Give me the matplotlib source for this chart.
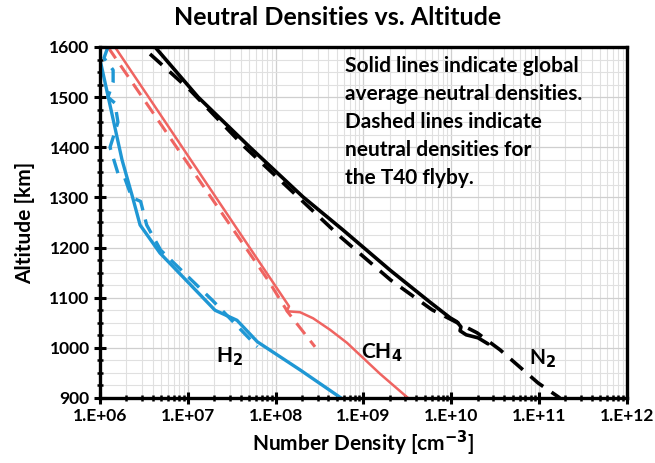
import numpy as np
import matplotlib.pyplot as plt
from matplotlib.ticker import LogLocator, MultipleLocator, FixedLocator

plt.rcParams['font.family'] = ['Lato', 'DejaVu Sans']
plt.rcParams['font.weight'] = 'bold'

# H2, global average (solid) and T40 flyby (dashed)
h2_avg_n = [1.0e6, 1.78e6, 2.31e6, 2.86e6, 4.82e6, 2.04e7, 3.63e7, 6.2e7, 1.9e8, 5.56e8]
h2_avg_alt = [1575, 1375, 1305, 1245, 1189, 1075, 1055, 1012, 956, 900]
h2_t40_n = [1.23e6, 1.11e6, 1.41e6, 1.41e6, 1.23e6, 1.48e6, 1.6e6, 1.3e6, 1.62e6, 1.9e6,
            2.3e6, 2.9e6, 3.4e6, 4.9e6, 1.9e7, 6.2e7]
h2_t40_alt = [1600, 1578, 1554, 1530, 1500, 1488, 1450, 1400, 1345, 1340,
              1300, 1292, 1245, 1195, 1095, 1002]

# CH4
ch4_avg_n = [1.48e6, 1.42e8, 1.34e8, 1.9e8, 2.67e8, 4.17e8, 6.5e8, 1.55e9, 3.22e9]
ch4_avg_alt = [1600, 1083, 1073, 1071, 1059, 1036, 1010, 948, 900]
ch4_t40_n = [1.23e6, 1.06e7, 8.2e7, 1.38e8, 2.81e8]
ch4_t40_alt = [1600, 1361, 1135, 1071, 1002]

# N2
n2_avg_n = [4.23e6, 1.31e7, 5.1e7, 2.05e8, 5.86e8, 2.01e9, 5.74e9, 9.7e9, 1.16e10,
            1.29e10, 1.26e10, 1.48e10, 2.02e10, 2.62e10]
n2_avg_alt = [1600, 1500, 1400, 1301, 1235, 1155, 1091, 1060, 1052,
              1042, 1034, 1026, 1020, 1008]
n2_t40_n = [3.71e6, 1.06e7, 4.48e7, 1.8e8, 5.5e8, 2.05e9, 6.04e9, 1.97e10,
            3.6e10, 9.75e10, 1.73e11]
n2_t40_alt = [1586, 1514, 1400, 1301, 1221, 1135, 1076, 1030, 996, 930, 900]

x_ticks = [1e6, 1e7, 1e8, 1e9, 1e10, 1e11, 1e12]
x_labels = ['1.E+06', '1.E+07', '1.E+08', '1.E+09', '1.E+10', '1.E+11', '1.E+12']

blue = '#1f97d4'
red = '#ef6461'

fig = plt.figure(figsize=(6.55, 4.63), dpi=100)
ax = fig.add_axes([0.1527, 0.1404, 0.957 - 0.1527, 0.8985 - 0.1404])

ax.plot(n2_avg_n, n2_avg_alt, color='black', lw=2.6, solid_capstyle='round')
ax.plot(n2_t40_n, n2_t40_alt, color='black', lw=2.6, dashes=(4.5, 2.8))
ax.plot(ch4_avg_n, ch4_avg_alt, color=red, lw=1.8)
ax.plot(ch4_t40_n, ch4_t40_alt, color=red, lw=2.2, dashes=(4.5, 2.8))
ax.plot(h2_avg_n, h2_avg_alt, color=blue, lw=2.4)
ax.plot(h2_t40_n, h2_t40_alt, color=blue, lw=2.4, dashes=(4.5, 2.8))

ax.set_xscale('log')
ax.set_xlim(1e6, 1e12)
ax.set_ylim(900, 1600)
ax.xaxis.set_major_locator(FixedLocator(x_ticks))
ax.set_xticklabels(x_labels)
ax.xaxis.set_minor_locator(LogLocator(base=10, subs=np.arange(2, 10)))
ax.xaxis.set_minor_formatter(plt.NullFormatter())
ax.yaxis.set_major_locator(MultipleLocator(100))
ax.yaxis.set_minor_locator(MultipleLocator(25))

ax.grid(True, which='major', color='#cfcfcf', lw=0.9)
ax.grid(True, which='minor', color='#e0e0e0', lw=0.8)
ax.set_axisbelow(True)

for s in ax.spines.values():
    s.set_linewidth(2.4)
ax.tick_params(which='major', direction='inout', length=8, width=2.2, labelsize=12.5)
ax.tick_params(which='minor', direction='inout', length=5, width=1.8)

fig.text(0.516, 0.962, 'Neutral Densities vs. Altitude', fontsize=18,
         fontweight='bold', ha='center', va='center')
ax.set_xlabel('Number Density [cm$^{\\mathbf{-3}}$]', fontsize=15, fontweight='bold', labelpad=3)
ax.set_ylabel('Altitude [km]', fontsize=15, fontweight='bold', labelpad=10)

ax.text(0.465, 0.975, 'Solid lines indicate global\naverage neutral densities.\n'
        'Dashed lines indicate\nneutral densities for\nthe T40 flyby.',
        transform=ax.transAxes, va='top', ha='left', fontsize=15,
        fontweight='bold', linespacing=1.5)
ax.text(3.0e7, 1005, 'H$_\\mathbf{2}$', fontsize=15, fontweight='bold', va='top', ha='center')
ax.text(1.6e9, 1012, 'CH$_\\mathbf{4}$', fontsize=15, fontweight='bold', va='top', ha='center')
ax.text(1.1e11, 1000, 'N$_\\mathbf{2}$', fontsize=15, fontweight='bold', va='top', ha='center')

fig.savefig('out.png', dpi=100)
